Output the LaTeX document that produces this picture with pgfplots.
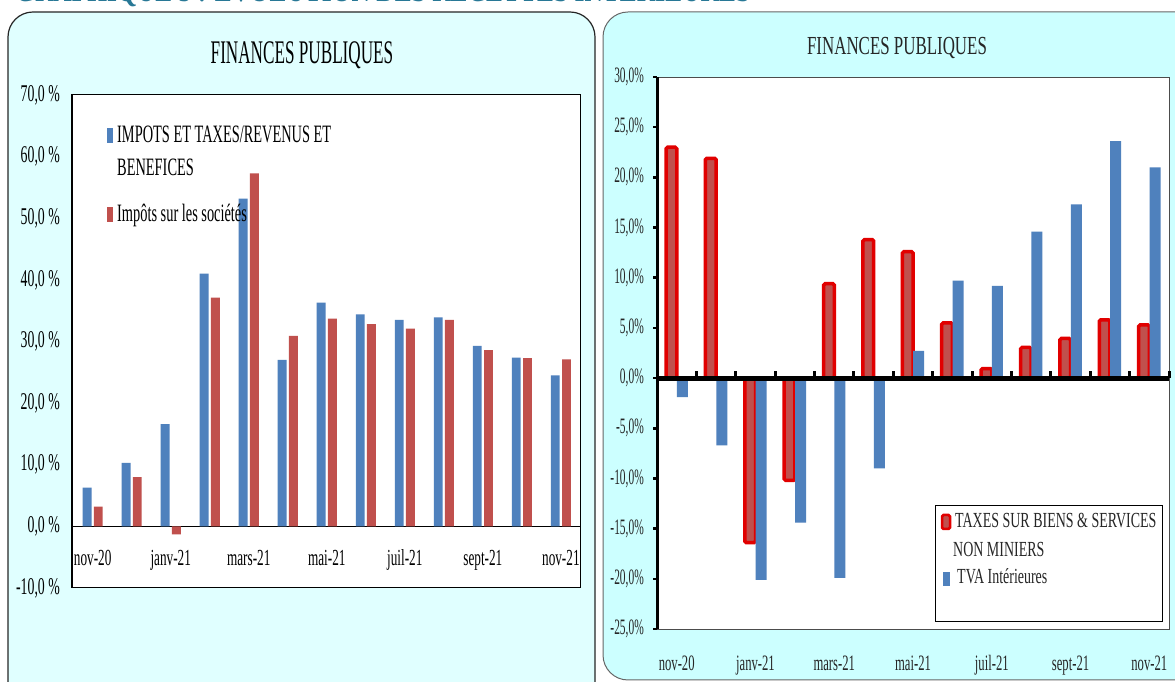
\documentclass[border=0pt]{standalone}
\usepackage{fontspec}
\setmainfont{Liberation Serif}
\newfontfamily\fA[FakeStretch=0.52]{Liberation Serif}
\newfontfamily\fB[FakeStretch=0.575]{Liberation Serif}
\newfontfamily\fC[FakeStretch=0.65]{Liberation Serif}
\usepackage{pgfplots}
\usepackage{pgfplotstable}
\pgfplotsset{compat=1.18}
\definecolor{barblue}{RGB}{79,129,189}
\definecolor{barred}{RGB}{192,80,77}
\definecolor{brightred}{RGB}{225,0,0}
\definecolor{panelL}{RGB}{224,255,255}
\definecolor{panelR}{RGB}{204,255,255}
\definecolor{topteal}{RGB}{40,120,150}

\pgfplotstableread{
x blue red
0 6.3 3.2
1 10.3 8.0
2 16.6 -1.3
3 41.0 37.1
4 53.2 57.3
5 27.0 30.9
6 36.3 33.7
7 34.4 32.8
8 33.5 32.1
9 33.9 33.5
10 29.3 28.6
11 27.4 27.3
12 24.5 27.1
}\leftdata

\pgfplotstableread{
x red blue
0 23.0 -1.9
1 21.9 -6.7
2 -16.4 -20.1
3 -10.2 -14.4
4 9.4 -19.9
5 13.8 -9.0
6 12.6 2.7
7 5.5 9.7
8 0.95 9.2
9 3.05 14.6
10 3.95 17.3
11 5.8 23.6
12 5.3 21.0
}\rightdata

\begin{document}
\begin{tikzpicture}[x=1pt,y=1pt]
\useasboundingbox (0pt,0pt) rectangle (1175pt,682pt);
% cut-off heading
\node[anchor=base west, inner sep=0pt, text=topteal] at (15pt,680pt)
  {\resizebox{735pt}{22pt}{\bfseries GRAPHIQUE 5 : EVOLUTION DES RECETTES INTERIEURES}};
% panels
\draw[fill=panelL, draw=black!85, line width=1.2pt, rounded corners=25pt] (8pt,-40pt) rectangle (595pt,670pt);
\draw[fill=panelR, draw=black!60, line width=1pt, rounded corners=25pt] (603pt,2pt) rectangle (1210pt,670pt);

% titles
\node[anchor=base, inner sep=0pt, font=\fA\fontsize{33}{33}\selectfont] at (302pt,618pt) {FINANCES PUBLIQUES};
\node[anchor=base, inner sep=0pt, text=black!85, font=\fC\fontsize{26}{26}\selectfont] at (897pt,627pt) {FINANCES PUBLIQUES};

% ---------------- left chart
\begin{axis}[at={(72pt,94pt)}, anchor=south west, scale only axis,
  width=508pt, height=493pt,
  xmin=-0.53, xmax=12.49, ymin=-10, ymax=70,
  axis background/.style={fill=white},
  axis line style={black, line width=1pt},
  xtick={0,2,...,12},
  xticklabels={nov-20,janv-21,mars-21,mai-21,juil-21,sept-21,nov-21},
  ytick={-10,0,...,70},
  yticklabels={{-10,0 \%},{0,0 \%},{10,0 \%},{20,0 \%},{30,0 \%},{40,0 \%},{50,0 \%},{60,0 \%},{70,0 \%}},
  major tick length=0pt,
  xticklabel style={font=\fB\fontsize{23}{23}\selectfont, anchor=base, inner sep=0pt, yshift=22pt},
  yticklabel style={font=\fB\fontsize{24}{24}\selectfont, anchor=east, inner sep=0pt, xshift=-12pt},
  extra y ticks={0}, extra y tick labels={},
  extra y tick style={grid=major, major grid style={black, line width=0.9pt}},
  clip=false]
\addplot[ybar, bar width=8.9pt, bar shift=-5.6pt, fill=barblue, draw=none] table[x=x,y=blue]{\leftdata};
\addplot[ybar, bar width=8.9pt, bar shift=5.6pt, fill=barred, draw=none] table[x=x,y=red]{\leftdata};
\end{axis}
% left legend
\fill[barblue] (107pt,539pt) rectangle (113pt,554pt);
\fill[barred] (107pt,460pt) rectangle (113pt,475pt);
\node[anchor=base west, inner sep=0pt, font=\fB\fontsize{25}{25}\selectfont] at (117pt,539pt) {IMPOTS ET TAXES/REVENUS ET};
\node[anchor=base west, inner sep=0pt, font=\fB\fontsize{25}{25}\selectfont] at (117pt,506pt) {BENEFICES};
\node[anchor=base west, inner sep=0pt, font=\fB\fontsize{25}{25}\selectfont] at (117pt,460pt) {Impôts sur les sociétés};

% ---------------- right chart
\begin{axis}[at={(657pt,53pt)}, anchor=south west, scale only axis,
  width=512pt, height=552pt,
  xmin=-0.5, xmax=12.5, ymin=-25, ymax=30,
  axis background/.style={fill=white},
  axis line style={black!70, line width=0.8pt},
  xtick={0,2,...,12},
  xticklabels={nov-20,janv-21,mars-21,mai-21,juil-21,sept-21,nov-21},
  xtick style={draw=none},
  ytick={-25,-20,...,30},
  yticklabels={{-25,0\%},{-20,0\%},{-15,0\%},{-10,0\%},{-5,0\%},{0,0\%},{5,0\%},{10,0\%},{15,0\%},{20,0\%},{25,0\%},{30,0\%}},
  ytick pos=left, tick align=outside,
  ytick style={black, line width=2.5pt},
  major tick length=4pt,
  xticklabel style={font=\fB\fontsize{22}{22}\selectfont, text=black!85, anchor=base, inner sep=0pt, yshift=-38pt},
  yticklabel style={font=\fA\fontsize{22}{22}\selectfont, text=black!85, anchor=east, inner sep=0pt, xshift=-9pt},
  clip=false]
\addplot[ybar, bar width=10.7pt, bar shift=-5.3pt, fill=barred, draw=brightred, line width=3.5pt, rounded corners=1.5pt] table[x=x,y=red]{\rightdata};
\addplot[ybar, bar width=11pt, bar shift=5.7pt, fill=barblue, draw=none] table[x=x,y=blue]{\rightdata};
\draw[line width=5pt, black] (axis cs:-0.5,0) -- (axis cs:12.5,0);
\pgfplotsinvokeforeach{0.5,1.5,...,12.5}{\draw[line width=3pt, black] (axis cs:#1,0) -- ++(0pt,7pt);}
\draw[line width=3pt, black] (rel axis cs:0,0) -- (rel axis cs:0,1);
\end{axis}
% right legend
\draw[fill=white, draw=black, line width=0.8pt] (935pt,61pt) rectangle (1162pt,177pt);
\draw[fill=barred, draw=brightred, line width=2.5pt, rounded corners=1.5pt] (942pt,153pt) rectangle (950pt,167pt);
\fill[barblue] (943pt,96pt) rectangle (950pt,110pt);
\node[anchor=base west, inner sep=0pt, text=black!85, font=\fC\fontsize{21.5}{21.5}\selectfont] at (955pt,154pt) {TAXES SUR BIENS \& SERVICES};
\node[anchor=base west, inner sep=0pt, text=black!85, font=\fC\fontsize{21.5}{21.5}\selectfont] at (953pt,125pt) {NON MINIERS};
\node[anchor=base west, inner sep=0pt, text=black!85, font=\fC\fontsize{21.5}{21.5}\selectfont] at (957pt,98pt) {TVA Intérieures};
\end{tikzpicture}
\end{document}
